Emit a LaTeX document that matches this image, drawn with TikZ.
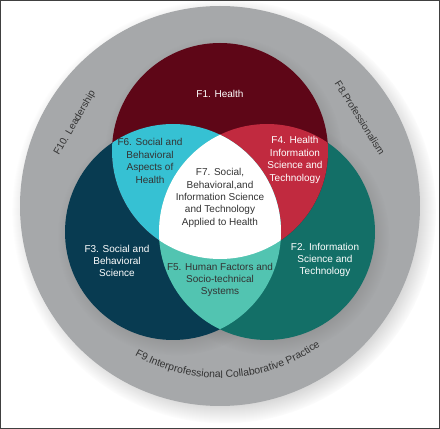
\documentclass[tikz,border=0pt]{standalone}
\usepackage{fontspec}
\setsansfont{Liberation Sans}
\usetikzlibrary{shadows,fadings,decorations.text}

\definecolor{ringgray}{HTML}{A6A8AA}
\definecolor{healthred}{HTML}{5E0617}
\definecolor{hitred}{HTML}{C12A3F}
\definecolor{sbcyan}{HTML}{36C1D3}
\definecolor{socnavy}{HTML}{083B51}
\definecolor{infoteal}{HTML}{136F67}
\definecolor{hfteal}{HTML}{52C4B1}
\definecolor{labelgray}{HTML}{333333}

\newcommand{\ringfont}{\sffamily\fontsize{10.4}{12}\selectfont\color{labelgray}}

\begin{document}
\begin{tikzpicture}[x=1pt, y=1pt,
  lbl/.style = {align=center, font=\sffamily\fontsize{10}{12.4}\selectfont},
  light/.style = {lbl, text=white},
  dark/.style = {lbl, text=labelgray},
  venn shadow/.style = {circular drop shadow={shadow xshift=3pt, shadow yshift=-4pt, shadow scale=1.1, opacity=.45}}]
	\useasboundingbox (0,0) rectangle (440,429);
	\fill[white] (0,0) rectangle (440,429);
	\coordinate (ring) at (220,223);
	\coordinate (health) at (220,278);
	\coordinate (social) at (173,197);
	\coordinate (infosci) at (267,197);
	% outer ring
	\fill[ringgray, circular drop shadow={shadow xshift=4pt, shadow yshift=-5pt, shadow scale=1.06, opacity=.5}] (ring) circle (200);
	% shadows of the three circles
	\path[venn shadow] (health) circle (108);
	\path[venn shadow] (social) circle (108);
	\path[venn shadow] (infosci) circle (108);
	% the three circles
	\fill[socnavy] (social) circle (108);
	\fill[infoteal] (infosci) circle (108);
	\fill[healthred] (health) circle (108);
	\begin{scope}
		\clip (health) circle (108);
		\fill[hitred] (infosci) circle (108);
		\fill[sbcyan] (social) circle (108);
	\end{scope}
	\begin{scope}
		\clip (social) circle (108);
		\fill[hfteal] (infosci) circle (108);
		\clip (infosci) circle (108);
		\fill[white] (health) circle (108);
	\end{scope}
	% labels
	\node[light] (f1) at (220,335) {F1. Health};
	\node[dark] (f6) at (150,268) {F6. Social and\\Behavioral\\Aspects of\\Health};
	\node[light] (f4) at (295,269) {F4. Health\\Information\\Science and\\Technology};
	\node[dark] (f7) at (220,231) {F7. Social,\\Behavioral,and\\Information Science\\and Technology\\Applied to Health};
	\node[light] (f3) at (117,168) {F3. Social and\\Behavioral\\Science};
	\node[light] (f2) at (325,169) {F2. Information\\Science and\\Technology};
	\node[dark] (f5) at (220,149) {F5. Human Factors and\\Socio-technical\\Systems};
	\node[dark, rotate=60] (f10) at (75,306) {F10. Leadership};
	\node[dark, rotate=-58] (f8) at (360,311) {F8.Professionalism};
	\path[decorate, decoration={text along path, text align=center,
		text={|\ringfont|F9.Interprofessional Collaborative Practice}}]
		(ring) ++(-132:172) arc[start angle=-132, end angle=-42, radius=172];
	% frame
	\draw[line width=1.2pt, black!75] (0.6,0.6) rectangle (439.4,428.4);
\end{tikzpicture}
\end{document}
